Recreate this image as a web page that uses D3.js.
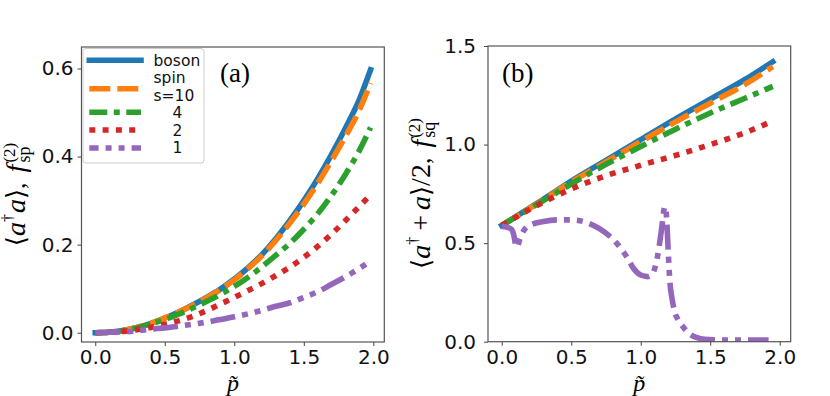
<!DOCTYPE html>
<html><head><meta charset="utf-8">
<script src="https://cdn.jsdelivr.net/npm/d3@7/dist/d3.min.js"></script>
<style>
html,body{margin:0;padding:0;background:#fff;}
svg{display:block;}
</style></head>
<body><svg id="c" width="830" height="396"></svg>
<script>
// ---------- data ----------
const pA   = [0,0.1,0.2,0.3,0.4,0.5,0.6,0.7,0.8,0.9,1.0,1.1,1.2,1.3,1.4,1.5,1.6,1.7,1.8,1.9,1.98];
const bosonA = [0,0.001,0.005,0.012,0.021,0.033,0.047,0.063,0.080,0.099,0.122,0.148,0.178,0.214,0.255,0.300,0.350,0.405,0.465,0.530,0.597];
const s10A   = [0,0.001,0.005,0.012,0.021,0.033,0.047,0.062,0.079,0.098,0.120,0.146,0.175,0.210,0.249,0.292,0.339,0.391,0.446,0.506,0.567];
const s4A    = [0,0.001,0.005,0.011,0.020,0.030,0.042,0.056,0.071,0.087,0.105,0.126,0.150,0.176,0.203,0.235,0.270,0.312,0.360,0.414,0.466];
const s2A    = [0,0.001,0.003,0.007,0.012,0.019,0.027,0.037,0.050,0.065,0.080,0.096,0.112,0.130,0.149,0.171,0.196,0.224,0.255,0.287,0.313];
const s1A    = [0,0.001,0.002,0.004,0.008,0.011,0.015,0.019,0.024,0.030,0.036,0.043,0.051,0.060,0.068,0.080,0.093,0.110,0.127,0.146,0.163];

const pB     = [0,0.25,0.5,0.75,1.0,1.25,1.5,1.75,1.95];
const bosonB = [0.59,0.70,0.815,0.92,1.025,1.13,1.23,1.33,1.42];
const s10B   = [0.59,0.698,0.81,0.912,1.015,1.115,1.21,1.305,1.395];
const s4B    = [0.59,0.695,0.80,0.90,0.99,1.078,1.16,1.235,1.295];
const s2B    = [0.59,0.69,0.775,0.842,0.895,0.945,1.0,1.06,1.12];
const pB1    = [0,0.04,0.07,0.09,0.10,0.11,0.13,0.16,0.2,0.3,0.4,0.5,0.6,0.7,0.8,0.9,0.95,1.0,1.05,1.08,1.1,1.12,1.14,1.155,1.165,1.175,1.185,1.195,1.21,1.225,1.245,1.27,1.3,1.35,1.4,1.46,1.55,1.7,1.92];
const s1B    = [0.585,0.58,0.57,0.53,0.49,0.48,0.52,0.565,0.59,0.61,0.618,0.618,0.607,0.575,0.52,0.43,0.37,0.338,0.33,0.34,0.37,0.43,0.52,0.60,0.66,0.685,0.64,0.50,0.30,0.22,0.15,0.11,0.08,0.04,0.022,0.012,0.009,0.008,0.008];

const xTicks  = [0,0.5,1.0,1.5,2.0];
const yTicksA = [0,0.2,0.4,0.6];
const yTicksB = [0,0.5,1.0,1.5];
const seriesNames = ["boson","spin\ns=10","4","2","1"];

// ---------- styles ----------
const colors = ["#1f77b4","#ff7f0e","#2ca02c","#d62728","#9467bd"];
const dashes = [null,"21,7","18,6.5,6,6.5","6,7.3","25,7,6,7,6,7"];
const LW = 5.6;
const sans = "'DejaVu Sans', sans-serif";
const serif = "'Liberation Serif','Times New Roman',serif";

const svg = d3.select("#c");

function panel(cfg){
  const x = d3.scaleLinear().domain([-0.099,2.079]).range([cfg.left,cfg.right]);
  const y = d3.scaleLinear().domain(cfg.ydom).range([cfg.bottom,cfg.top]);
  const id = "clip"+cfg.name;
  svg.append("clipPath").attr("id",id).append("rect")
    .attr("x",cfg.left).attr("y",cfg.top).attr("width",cfg.right-cfg.left).attr("height",cfg.bottom-cfg.top);
  const g = svg.append("g").attr("clip-path","url(#"+id+")");
  const line = d3.line().x(d=>x(d[0])).y(d=>y(d[1])).curve(d3.curveMonotoneX);
  cfg.series.forEach((s,i)=>{
    const pts = s.xs.map((v,k)=>[v,s.ys[k]]);
    g.append("path").attr("d",line(pts)).attr("fill","none")
      .attr("stroke",colors[i]).attr("stroke-width",LW)
      .attr("stroke-linecap", i===0?"square":"butt")
      .attr("stroke-linejoin","round")
      .attr("stroke-dasharray",dashes[i]);
  });
  // axes
  const ax = svg.append("g").attr("transform",`translate(0,${cfg.bottom})`)
    .call(d3.axisBottom(x).tickValues(xTicks).tickFormat(d3.format(".1f")).tickSize(4).tickPadding(4));
  const ay = svg.append("g").attr("transform",`translate(${cfg.left},0)`)
    .call(d3.axisLeft(y).tickValues(cfg.yticks).tickFormat(d3.format(".1f")).tickSize(4).tickPadding(cfg.ypad));
  [ax,ay].forEach(a=>{
    a.select(".domain").remove();
    a.selectAll("line").attr("stroke","#444").attr("stroke-width",1);
    a.selectAll("text").attr("font-family",sans).attr("font-size",20).attr("fill","#111");
  });
  // frame
  svg.append("rect").attr("x",cfg.left).attr("y",cfg.top)
    .attr("width",cfg.right-cfg.left).attr("height",cfg.bottom-cfg.top)
    .attr("fill","none").attr("stroke","#555").attr("stroke-width",1.2);
  // x label p~
  svg.append("text").attr("x",(cfg.left+cfg.right)/2).attr("y",391)
    .attr("text-anchor","middle").attr("font-family",serif).attr("font-style","italic")
    .attr("font-size",24).text("p\u0303");
  // panel label
  svg.append("text").attr("x",cfg.plx).attr("y",82).attr("font-family",serif)
    .attr("font-size",27).text(cfg.plabel);
  return {x,y};
}

function mathLabel(cx, cy, pieces){
  const g = svg.append("g").attr("transform",`translate(${cx},${cy}) rotate(-90)`);
  const inner = g.append("g");
  let cur = 0, subStart = 0, maxEnd = 0;
  pieces.forEach(p=>{
    if(p.gap){cur += p.gap; return;}
    let xpos = cur;
    if(p.stack) xpos = subStart;
    const t = inner.append("text").attr("x",xpos).attr("y",p.dy||0)
      .attr("font-family",p.font||serif).attr("font-size",p.size||26)
      .attr("font-style",p.it?"italic":"normal").text(p.t);
    const w = t.node().getComputedTextLength();
    if(p.sub) subStart = cur;
    if(p.stack){ cur = Math.max(cur, xpos+w); }
    else { cur = xpos + w + (p.after||0); }
    maxEnd = Math.max(maxEnd,cur);
  });
  inner.attr("transform",`translate(${-maxEnd/2},0)`);
}

const A = panel({name:"A",left:81.5,right:384.3,top:47,bottom:342,ydom:[-0.0211,0.6488],
  yticks:yTicksA,ypad:4,plx:220,plabel:"(a)",
  series:[{xs:pA,ys:bosonA},{xs:pA,ys:s10A},{xs:pA,ys:s4A},{xs:pA,ys:s2A},{xs:pA,ys:s1A}]});
const B = panel({name:"B",left:488,right:790.7,top:46,bottom:341.7,ydom:[0,1.5],
  yticks:yTicksB,ypad:8,plx:502,plabel:"(b)",
  series:[{xs:pB,ys:bosonB},{xs:pB,ys:s10B},{xs:pB,ys:s4B},{xs:pB,ys:s2B},{xs:pB1,ys:s1B}]});

const ang = "'DejaVu Serif','DejaVu Sans',serif";
mathLabel(25, 194.5, [
  {t:"\u27E8",font:ang,size:26},
  {t:"a",it:true,size:28},
  {t:"\u2020",size:16,dy:-12,after:1},
  {t:"a",it:true,size:28},
  {t:"\u27E9",font:ang,size:26},
  {t:",",size:26},
  {gap:10},
  {t:"f",it:true,size:28,after:2},
  {t:"sp",size:18,dy:5,sub:true},
  {t:"(2)",size:17,dy:-10,stack:true}
]);
mathLabel(430, 193.5, [
  {t:"\u27E8",font:ang,size:26},
  {t:"a",it:true,size:28},
  {t:"\u2020",size:16,dy:-12,after:1},
  {gap:5},
  {t:"+",size:28},
  {gap:5},
  {t:"a",it:true,size:28},
  {t:"\u27E9",font:ang,size:26},
  {t:"/2",size:28},
  {t:",",size:26},
  {gap:10},
  {t:"f",it:true,size:28,after:2},
  {t:"sq",size:18,dy:5,sub:true},
  {t:"(2)",size:17,dy:-10,stack:true}
]);

// ---------- legend ----------
const lg = svg.append("g");
lg.append("rect").attr("x",83).attr("y",48.5).attr("width",121).attr("height",114.5).attr("rx",3)
  .attr("fill","#fff").attr("fill-opacity",0.8).attr("stroke","#ccc").attr("stroke-width",1);
const legY = [60.3,88.7,112.3,130,148];
const legOffsets = [0,0,0,0,15.7];
legY.forEach((yy,i)=>{
  lg.append("line").attr("x1",89.3).attr("x2",141).attr("y1",yy).attr("y2",yy)
    .attr("stroke",colors[i]).attr("stroke-width",LW)
    .attr("stroke-linecap", i===0?"square":"butt")
    .attr("stroke-dasharray",dashes[i]).attr("stroke-dashoffset",legOffsets[i]);
});
const legText = [[{t:"boson",x:153.5,y:66}],[{t:"spin",x:153.5,y:82.5},{t:"s=10",x:153.5,y:100.5}],
  [{t:"4",x:172.5,y:118}],[{t:"2",x:172.5,y:135.7}],[{t:"1",x:172.5,y:153.3}]];
seriesNames.forEach((n,i)=>{
  legText[i].forEach(o=>{
    lg.append("text").attr("x",o.x).attr("y",o.y).attr("font-family",sans).attr("font-size",15.5)
      .attr("fill","#111").text(o.t);
  });
});
</script></body></html>
